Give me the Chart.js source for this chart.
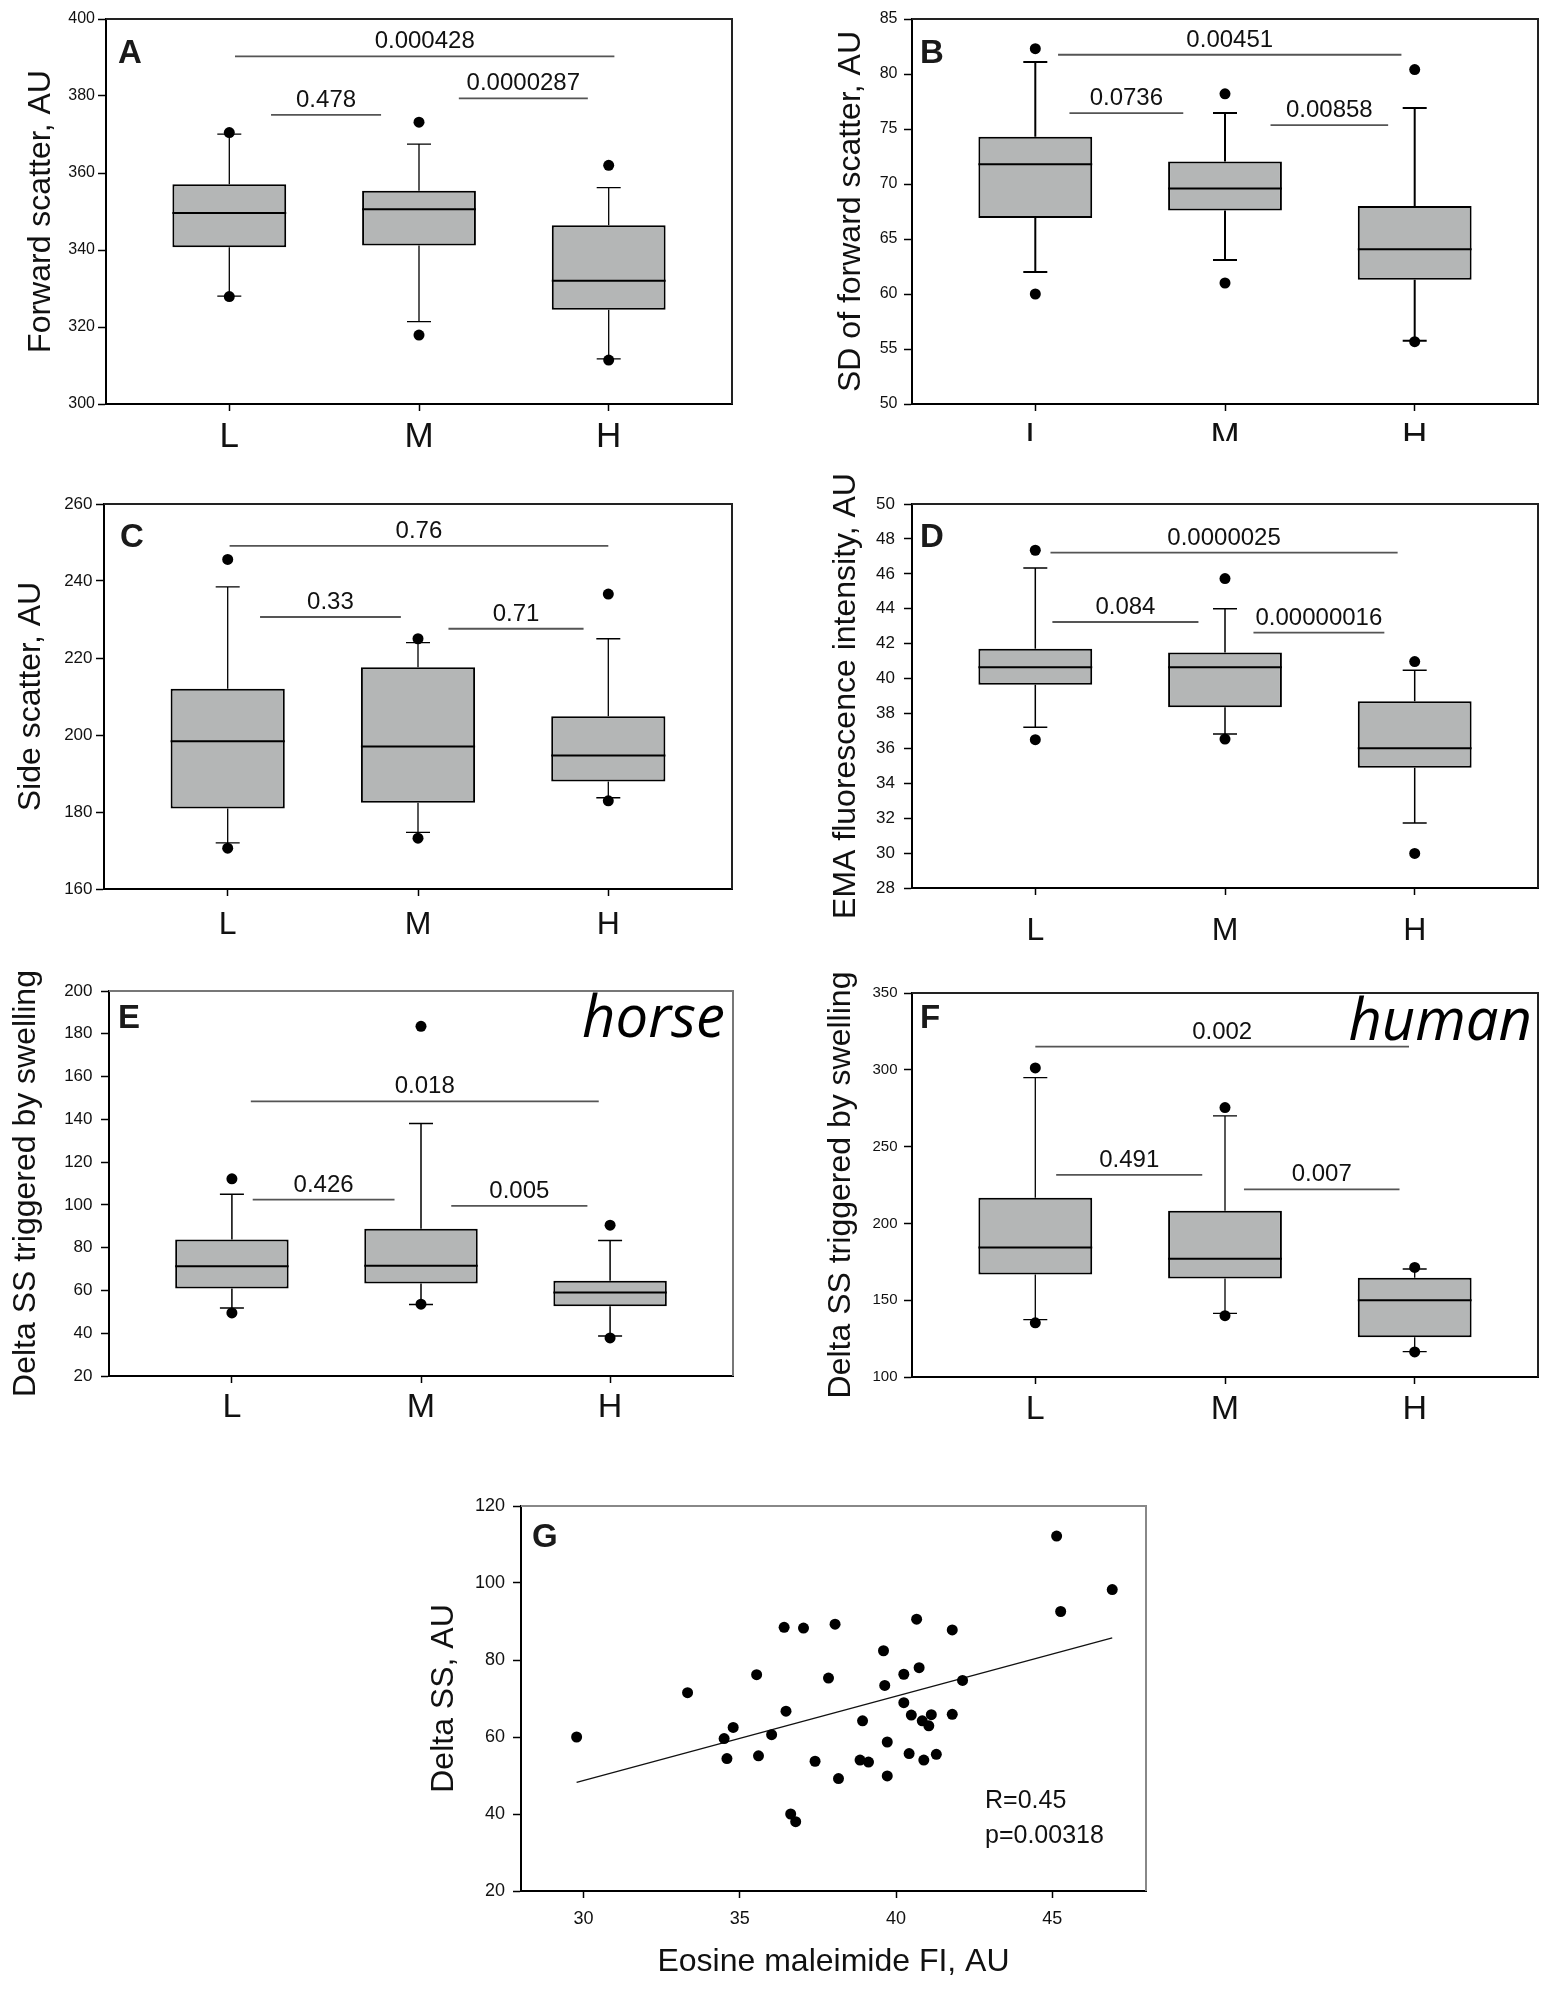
<!DOCTYPE html>
<html>
<head>
<meta charset="utf-8">
<script src="https://cdn.jsdelivr.net/npm/chart.js@4.4.1/dist/chart.umd.min.js"></script>
<style>
  html, body { margin: 0; padding: 0; background: #fff; }
  body { width: 1547px; height: 1991px; position: relative; overflow: hidden; }
  canvas { position: absolute; }
</style>
</head>
<body>
<canvas id="pA"></canvas>
<canvas id="pB"></canvas>
<canvas id="pC"></canvas>
<canvas id="pD"></canvas>
<canvas id="pE"></canvas>
<canvas id="pF"></canvas>
<canvas id="pG"></canvas>
<script>
const groups = ['L', 'M', 'H'];

// box summaries per group: lower whisker, Q1, median, Q3, upper whisker
const fwdBox = [[328.0, 340.7, 349.6, 357.1, 370.1], [321.4, 341.2, 350.6, 355.4, 367.5], [311.7, 324.5, 332.0, 346.4, 356.2]];
const fwdOut = [[327.9, 370.5], [317.9, 373.2], [311.4, 362.0]];
const fwdTicks = [300, 320, 340, 360, 380, 400];
// p-value, from group, to group, level
const fwdP = [['0.000428', 1.03, 3.03, 390.3], ['0.478', 1.22, 1.80, 375.1], ['0.0000287', 2.21, 2.89, 379.4]];

const sdBox = [[62.0, 66.9, 71.8, 74.3, 81.1], [63.1, 67.6, 69.6, 72.05, 76.45], [55.76, 61.3, 64.07, 68.0, 76.9]];
const sdOut = [[60.0, 82.3], [61.0, 78.2], [55.67, 80.4]];
const sdTicks = [50, 55, 60, 65, 70, 75, 80, 85];
const sdP = [['0.00451', 1.12, 2.93, 81.75], ['0.0736', 1.18, 1.78, 76.45], ['0.00858', 2.24, 2.86, 75.35]];

const sideBox = [[172.0, 180.9, 198.4, 212.0, 238.5], [174.7, 182.4, 197.0, 217.6, 224.0], [183.7, 187.9, 194.7, 204.9, 225.0]];
const sideOut = [[170.6, 245.6], [173.2, 225.0], [182.9, 236.6]];
const sideTicks = [160, 180, 200, 220, 240, 260];
const sideP = [['0.76', 1.01, 3.0, 249.1], ['0.33', 1.17, 1.91, 230.65], ['0.71', 2.16, 2.87, 227.6]];

const emaBox = [[37.21, 39.64, 40.65, 41.7, 46.34], [36.83, 38.36, 40.65, 41.49, 44.0], [31.72, 34.89, 36.01, 38.7, 40.48]];
const emaOut = [[36.5, 47.35], [36.53, 45.73], [29.98, 40.97]];
const emaTicks = [28, 30, 32, 34, 36, 38, 40, 42, 44, 46, 48, 50];
const emaP = [['0.0000025', 1.08, 2.91, 47.21], ['0.084', 1.09, 1.86, 43.24], ['0.00000016', 2.15, 2.84, 42.63]];

const horseBox = [[51.8, 60.9, 71.3, 83.8, 105.0], [53.4, 63.2, 71.6, 88.8, 138.1], [38.7, 52.6, 59.0, 64.5, 83.3]];
const horseOut = [[49.5, 112.2], [53.6, 183.5], [37.8, 90.5]];
const horseTicks = [20, 40, 60, 80, 100, 120, 140, 160, 180, 200];
const horseP = [['0.018', 1.10, 2.94, 148.4], ['0.426', 1.11, 1.86, 102.5], ['0.005', 2.16, 2.88, 99.5]];

const humanBox = [[137.3, 166.8, 184.3, 216.7, 294.9], [141.4, 164.2, 177.0, 208.2, 270.0], [116.5, 125.8, 149.9, 164.6, 170.3]];
const humanOut = [[135.3, 301.2], [139.9, 275.4], [116.3, 171.3]];
const humanTicks = [100, 150, 200, 250, 300, 350];
const humanP = [['0.002', 1.0, 2.97, 315.1], ['0.491', 1.11, 1.88, 231.6], ['0.007', 2.10, 2.92, 222.1]];

// panel G: EMA fluorescence vs delta SS
const emaFI = [29.78, 33.33, 34.50, 34.59, 34.79, 35.54, 35.60, 36.02, 36.42, 36.48, 36.63, 36.79, 37.04, 37.41,
  37.84, 38.05, 38.16, 38.85, 38.93, 39.12, 39.60, 39.64, 39.72, 39.72, 40.25, 40.25, 40.42, 40.49, 40.66, 40.74,
  40.84, 40.89, 41.05, 41.13, 41.29, 41.80, 41.80, 42.13, 45.14, 45.27, 46.92];
const deltaSS = [60.0, 71.5, 59.6, 54.4, 62.5, 76.2, 55.1, 60.6, 88.5, 66.7, 40.0, 38.0, 88.3, 53.7,
  75.3, 89.3, 49.2, 54.0, 64.2, 53.5, 82.4, 73.4, 58.7, 49.9, 76.3, 68.9, 55.7, 65.7, 90.6, 78.0,
  64.2, 54.0, 62.9, 65.8, 55.5, 87.8, 65.9, 74.7, 112.2, 92.6, 98.3];
const fitSlope = 2.19;
const fitIntercept = -17.0;
const corrNote = ['R=0.45', 'p=0.00318'];
const gxTicks = [30, 35, 40, 45];
const gyTicks = [20, 40, 60, 80, 100, 120];

const FONT = "'Liberation Sans', Arial, Helvetica, sans-serif";
const BOX_FILL = '#b4b6b6';

function placeCanvas(id, c) {
  const el = document.getElementById(id);
  el.width = c.w;
  el.height = c.h;
  el.style.left = c.left + 'px';
  el.style.top = c.top + 'px';
  el.style.width = c.w + 'px';
  el.style.height = c.h + 'px';
  return el;
}

function decor(p) {
  return {
    id: 'decor',
    beforeDatasetsDraw(chart) {
      if (!p.box) return;
      const ctx = chart.ctx, ys = chart.scales.y;
      const meta = chart.getDatasetMeta(1);
      ctx.save();
      ctx.strokeStyle = '#000';
      ctx.lineWidth = p.whisker || 1.5;
      p.box.forEach((b, i) => {
        const bar = meta.data[i];
        const x = bar.x;
        ctx.beginPath();
        ctx.moveTo(x, ys.getPixelForValue(b[3]));
        ctx.lineTo(x, ys.getPixelForValue(b[4]));
        ctx.moveTo(x, ys.getPixelForValue(b[1]));
        ctx.lineTo(x, ys.getPixelForValue(b[0]));
        [b[0], b[4]].forEach(v => {
          const py = ys.getPixelForValue(v);
          ctx.moveTo(x - 12, py);
          ctx.lineTo(x + 12, py);
        });
        ctx.stroke();
      });
      ctx.restore();
    },
    afterDatasetsDraw(chart) {
      if (!p.box) return;
      const ctx = chart.ctx, ys = chart.scales.y;
      const meta = chart.getDatasetMeta(1);
      ctx.save();
      ctx.strokeStyle = '#000';
      ctx.lineWidth = 2;
      p.box.forEach((b, i) => {
        const bar = meta.data[i];
        const py = ys.getPixelForValue(b[2]);
        ctx.beginPath();
        ctx.moveTo(bar.x - bar.width / 2, py);
        ctx.lineTo(bar.x + bar.width / 2, py);
        ctx.stroke();
      });
      ctx.restore();
    },
    afterDraw(chart) {
      const ctx = chart.ctx, a = chart.chartArea;
      const xs = chart.scales.x, ys = chart.scales.y;
      ctx.save();
      // top and right of the frame
      ctx.strokeStyle = p.frame || '#222';
      ctx.lineWidth = 2;
      ctx.beginPath();
      ctx.moveTo(a.left, a.top);
      ctx.lineTo(a.right, a.top);
      ctx.lineTo(a.right, a.bottom);
      ctx.stroke();

      // panel letter
      ctx.fillStyle = '#1a1a1a';
      ctx.font = 'bold 33px ' + FONT;
      ctx.textAlign = 'left';
      ctx.textBaseline = 'alphabetic';
      ctx.fillText(p.letter, a.left + p.letterAt[0], a.top + p.letterAt[1]);

      // y title
      ctx.save();
      ctx.translate(p.titleBase, (a.top + a.bottom) / 2);
      ctx.rotate(-Math.PI / 2);
      ctx.font = (p.titleSize || 32) + 'px ' + FONT;
      ctx.fillStyle = '#111';
      ctx.textAlign = 'center';
      ctx.fillText(p.title, 0, 0);
      ctx.restore();

      // significance brackets
      (p.pvals || []).forEach(([label, x1, x2, lv]) => {
        const px1 = xs.getPixelForValue(x1), px2 = xs.getPixelForValue(x2);
        const py = ys.getPixelForValue(lv);
        ctx.strokeStyle = '#555';
        ctx.lineWidth = 1.8;
        ctx.beginPath();
        ctx.moveTo(px1, py);
        ctx.lineTo(px2, py);
        ctx.stroke();
        ctx.fillStyle = '#111';
        ctx.font = '24px ' + FONT;
        ctx.textAlign = 'center';
        ctx.fillText(label, (px1 + px2) / 2, py - 8);
      });

      if (p.tag) {
        ctx.fillStyle = '#000';
        ctx.font = 'italic 58px "Open Sans", "Noto Sans", sans-serif';
        ctx.textAlign = 'right';
        ctx.fillText(p.tag, a.right + p.tagAt[0], a.top + p.tagAt[1]);
      }
      if (p.note) {
        ctx.fillStyle = '#111';
        ctx.font = '25px ' + FONT;
        ctx.textAlign = 'left';
        p.note.forEach((t, i) => ctx.fillText(t, a.left + p.noteAt[0], a.top + p.noteAt[1] + i * 35));
      }
      ctx.restore();
    }
  };
}

function axisCommon(size, pad, tl) {
  return {
    grid: { display: true, drawOnChartArea: false, drawTicks: true, tickLength: tl || 7, tickColor: '#000', tickWidth: 1.5, offset: false },
    border: { display: true, color: '#000', width: 2 },
    ticks: { color: '#111', font: { family: FONT, size: size }, padding: pad }
  };
}

function boxPanel(id, p) {
  const c = p.canvas, f = p.frameRect;
  const el = placeCanvas(id, c);
  const xc = axisCommon(p.xTick[0], p.xTick[1], 7);
  const yc = axisCommon(p.yTick[0], p.yTick[1] - 1, 8);
  return new Chart(el, {
    type: 'bar',
    data: {
      datasets: [
        {
          type: 'scatter',
          data: p.out.flatMap((vals, i) => vals.map(v => ({ x: i + 1, y: v }))),
          pointRadius: 5.5, pointHoverRadius: 5.5, pointBackgroundColor: '#000', pointBorderWidth: 0,
          order: 0
        },
        {
          type: 'bar',
          data: p.box.map((b, i) => ({ x: i + 1, y: [b[1], b[3]] })),
          backgroundColor: BOX_FILL, borderColor: '#000', borderWidth: 2, borderSkipped: false,
          barPercentage: 0.6, categoryPercentage: 1, order: 1
        }
      ]
    },
    options: {
      responsive: false, animation: false, events: [],
      layout: { padding: { left: 0, top: f.t - c.top, right: c.left + c.w - f.r, bottom: 0 } },
      plugins: { legend: { display: false }, tooltip: { enabled: false } },
      scales: {
        x: {
          type: 'linear', min: 0.35, max: 3.65, offset: false,
          afterBuildTicks: s => { s.ticks = groups.map((g, i) => ({ value: i + 1 })); },
          afterFit: s => { s.height = c.top + c.h - f.b; },
          grid: xc.grid, border: xc.border,
          ticks: Object.assign({}, xc.ticks, { callback: (v) => groups[Math.round(v) - 1] })
        },
        y: {
          type: 'linear', min: p.ticks[0], max: p.ticks[p.ticks.length - 1], beginAtZero: false,
          afterBuildTicks: s => { s.ticks = p.ticks.map(v => ({ value: v })); },
          afterFit: s => { s.width = f.l - c.left; },
          grid: yc.grid, border: yc.border, ticks: yc.ticks
        }
      }
    },
    plugins: [decor(Object.assign({}, p, { titleBase: p.titleBase - c.left }))]
  });
}

boxPanel('pA', {
  canvas: { left: 0, top: 0, w: 760, h: 470 }, frameRect: { l: 106, t: 19, r: 732, b: 404 },
  box: fwdBox, out: fwdOut, ticks: fwdTicks, pvals: fwdP,
  yTick: [16, 4], xTick: [35, 5], title: 'Forward scatter, AU', titleBase: 50,
  letter: 'A', letterAt: [12, 44], whisker: 1.3
});
boxPanel('pB', {
  canvas: { left: 770, top: 0, w: 777, h: 441 }, frameRect: { l: 912, t: 19, r: 1538, b: 404 },
  box: sdBox, out: sdOut, ticks: sdTicks, pvals: sdP,
  yTick: [16, 7.5], xTick: [35, 5], title: 'SD of forward scatter, AU', titleBase: 860,
  letter: 'B', letterAt: [8, 44], whisker: 2
});
boxPanel('pC', {
  canvas: { left: 0, top: 470, w: 760, h: 480 }, frameRect: { l: 104, t: 504, r: 732, b: 889 },
  box: sideBox, out: sideOut, ticks: sideTicks, pvals: sideP,
  yTick: [17, 4.5], xTick: [32, 10], title: 'Side scatter, AU', titleBase: 40,
  letter: 'C', letterAt: [16, 43], whisker: 1.3
});
boxPanel('pD', {
  canvas: { left: 770, top: 455, w: 777, h: 495 }, frameRect: { l: 912, t: 504, r: 1538, b: 888 },
  box: emaBox, out: emaOut, ticks: emaTicks, pvals: emaP,
  yTick: [17, 10], xTick: [32, 17], title: 'EMA fluorescence intensity, AU', titleBase: 855, titleSize: 32,
  letter: 'D', letterAt: [8, 43], whisker: 1.5
});
boxPanel('pE', {
  canvas: { left: 0, top: 955, w: 760, h: 470 }, frameRect: { l: 109, t: 991, r: 733, b: 1376 },
  box: horseBox, out: horseOut, ticks: horseTicks, pvals: horseP,
  yTick: [17, 9.5], xTick: [34, 4], title: 'Delta SS triggered by swelling', titleBase: 35,
  letter: 'E', letterAt: [9, 37], whisker: 1.5, frame: '#777',
  tag: 'horse', tagAt: [-8, 46]
});
boxPanel('pF', {
  canvas: { left: 770, top: 955, w: 777, h: 470 }, frameRect: { l: 912, t: 993, r: 1538, b: 1377 },
  box: humanBox, out: humanOut, ticks: humanTicks, pvals: humanP,
  yTick: [15, 7.5], xTick: [34, 5], title: 'Delta SS triggered by swelling', titleBase: 850,
  letter: 'F', letterAt: [8, 35], whisker: 1.3,
  tag: 'human', tagAt: [-6, 47]
});

// panel G scatter with fitted line
(function () {
  const c = { left: 400, top: 1470, w: 800, h: 521 }, f = { l: 521, t: 1506, r: 1146, b: 1891 };
  const el = placeCanvas('pG', c);
  const xc = axisCommon(18, 10, 7), yc = axisCommon(18, 8, 8);
  const fitX = [Math.min(...emaFI), Math.max(...emaFI)];
  new Chart(el, {
    type: 'scatter',
    data: {
      datasets: [
        {
          type: 'scatter', data: emaFI.map((x, i) => ({ x: x, y: deltaSS[i] })),
          pointRadius: 5.5, pointHoverRadius: 5.5, pointBackgroundColor: '#000', pointBorderWidth: 0, order: 0
        },
        {
          type: 'line', data: fitX.map(x => ({ x: x, y: fitSlope * x + fitIntercept })),
          borderColor: '#111', borderWidth: 1.3, pointRadius: 0, fill: false, order: 1
        }
      ]
    },
    options: {
      responsive: false, animation: false, events: [],
      layout: { padding: { left: 0, top: f.t - c.top, right: c.left + c.w - f.r, bottom: 0 } },
      plugins: { legend: { display: false }, tooltip: { enabled: false } },
      scales: {
        x: {
          type: 'linear', min: 28, max: 48,
          afterBuildTicks: s => { s.ticks = gxTicks.map(v => ({ value: v })); },
          afterFit: s => { s.height = c.top + c.h - f.b; },
          grid: xc.grid, border: xc.border, ticks: xc.ticks,
          title: { display: true, text: 'Eosine maleimide FI, AU', color: '#111',
            font: { family: FONT, size: 32, lineHeight: 1 }, padding: { top: 0, bottom: 13 } }
        },
        y: {
          type: 'linear', min: gyTicks[0], max: gyTicks[gyTicks.length - 1],
          afterBuildTicks: s => { s.ticks = gyTicks.map(v => ({ value: v })); },
          afterFit: s => { s.width = f.l - c.left; },
          grid: yc.grid, border: yc.border, ticks: yc.ticks
        }
      }
    },
    plugins: [decor({
      title: 'Delta SS, AU', titleBase: 453 - c.left, letter: 'G', letterAt: [11, 41],
      frame: '#888', note: corrNote, noteAt: [464, 302]
    })]
  });
})();
</script>
</body>
</html>
